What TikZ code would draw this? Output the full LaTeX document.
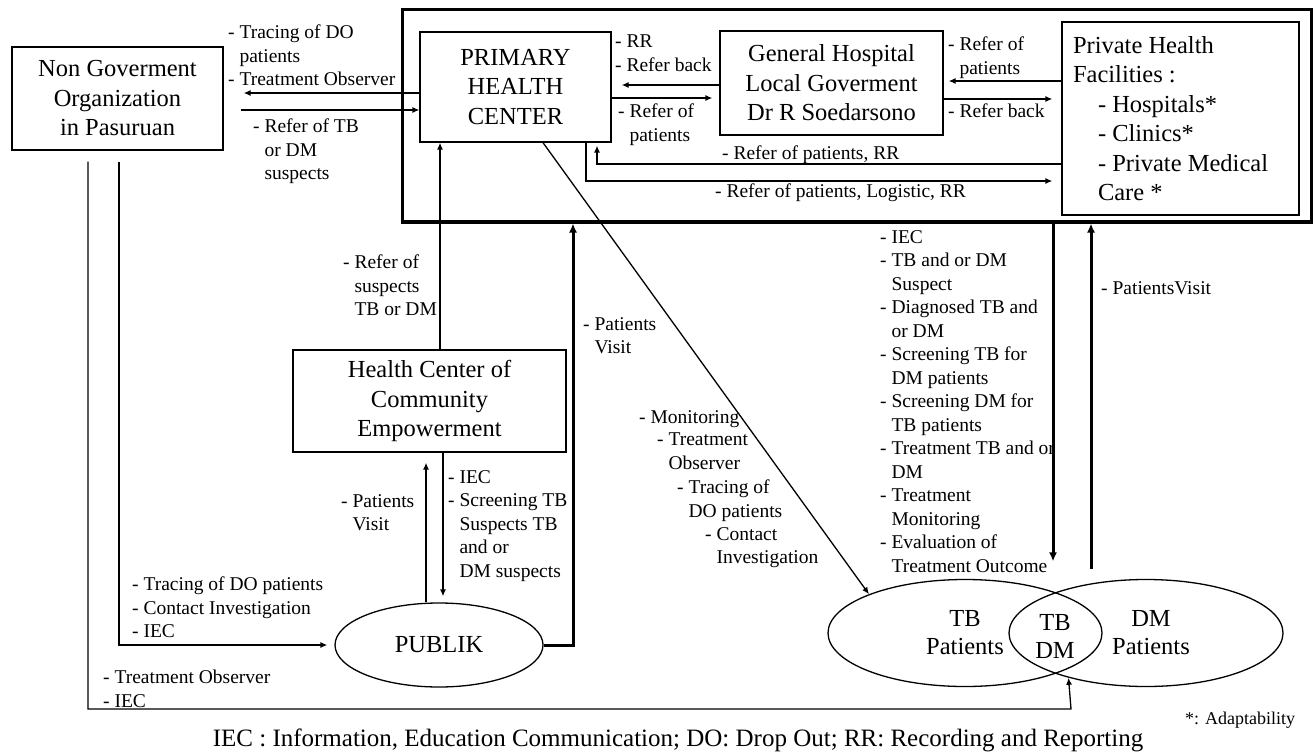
\documentclass[tikz,border=0pt]{standalone}
\usepackage{fontspec}
\setmainfont{Liberation Serif}
\usetikzlibrary{arrows.meta,shapes.geometric}
\newcommand{\myind}{\phantom{- }}
\begin{document}
\begin{tikzpicture}[x=1pt,y=-1pt,
  box/.style={draw, line width=1.3pt, align=center, inner sep=0pt, font=\fontsize{24.5}{29.5}\selectfont},
  ell/.style={draw, ellipse, line width=1.3pt, align=center, inner sep=0pt, font=\fontsize{24.5}{28}\selectfont},
  lab/.style={anchor=north west, align=left, inner sep=0pt, font=\fontsize{19.5}{23.5}\selectfont},
  arr/.style={-{Latex[length=7pt,width=6pt]}, line width=1.3pt},
  thk/.style={-{Latex[length=9pt,width=8pt]}, line width=3pt}]
\useasboundingbox (0,0) rectangle (1314,754);
\fill[white] (0,0) rectangle (1314,754);

% system frame
\node[draw, line width=3pt, minimum width=909pt, minimum height=212pt, inner sep=0pt] (sys) at (856.5,116) {};

% boxes
\node[box, minimum width=211pt, minimum height=103pt] (ngo) at (117.5,98.5) {Non Goverment\\Organization\\in Pasuruan};
\node[box, minimum width=191pt, minimum height=110pt] (phc) at (515.5,87) {PRIMARY\\HEALTH\\CENTER};
\node[box, minimum width=223pt, minimum height=104pt] (gh) at (831.5,83) {General Hospital\\Local Goverment\\Dr R Soedarsono};
\node[box, minimum width=237pt, minimum height=193pt, inner xsep=11pt, text width=215pt, align=flush left] (pvt) at (1180.5,118.5)
  {Private Health\\Facilities :\\\hspace*{25pt}- Hospitals*\\\hspace*{25pt}- Clinics*\\\hspace*{25pt}- Private Medical\\\hspace*{25pt}Care *};
\node[box, minimum width=273pt, minimum height=102pt] (hcce) at (429.5,401) {Health Center of\\Community\\Empowerment};

% ellipses
\node[ell, minimum width=208pt, minimum height=84pt] (publik) at (439,645) {PUBLIK};
\node[ell, minimum width=274pt, minimum height=107pt] (tb) at (965,633) {TB\\Patients};
\node[ell, minimum width=274pt, minimum height=107pt] (dm) at (1146,633) {\hspace*{10pt}DM\\\hspace*{10pt}Patients};
\node[align=center, inner sep=0pt, font=\fontsize{24.5}{28}\selectfont] (tbdm) at (1055,636) {TB\\DM};

% connectors
\draw[arr, shorten >=20pt] ([yshift=-6pt]phc.west) -- ([yshift=-6pt]phc.west -| ngo.east);
\draw[arr, shorten <=17pt] ([yshift=-23pt]phc.west -| ngo.east) -- ([yshift=-23pt]phc.west);
\draw[arr, shorten >=10pt] ([yshift=-2pt]gh.west) -- ([yshift=-2pt]gh.west -| phc.east);
\draw[arr, shorten >=7pt] ([yshift=-15pt]gh.west -| phc.east) -- ([yshift=-15pt]gh.west);
\draw[arr, shorten >=5pt] ([yshift=37.5pt]pvt.west) -- ([yshift=37.5pt]pvt.west -| gh.east);
\draw[arr, shorten >=9pt] ([yshift=19.5pt]pvt.west -| gh.east) -- ([yshift=19.5pt]pvt.west);
\draw[arr, shorten >=3pt] ([yshift=-45.5pt]pvt.west) -| ([xshift=81.5pt]phc.south);
\draw[arr, shorten >=9pt] ([xshift=70.5pt]phc.south) |- ([yshift=-62.5pt]pvt.west);
\draw[arr] ([xshift=27.5pt]phc.south) -- (tb.158.6);
\draw[arr] ([xshift=10.5pt]hcce.north) -- ([xshift=10.5pt]hcce.north |- phc.south);
\draw[thk] (publik.east) -| ([xshift=-283.5pt]sys.south);
\draw[arr, shorten >=10pt] ([xshift=-13pt]publik.north) -- ([xshift=-13pt]publik.north |- hcce.south);
\draw[arr, shorten >=6pt] ([xshift=13.5pt]hcce.south) -- ([xshift=13.5pt]hcce.south |- publik.north);
\draw[arr, shorten <=11pt, shorten >=7pt] ([xshift=1.5pt]ngo.south) |- (publik.west);
\coordinate (c15) at (1071,709);
\draw[arr, shorten <=11pt] ([xshift=-29.5pt]ngo.south) |- (c15) -- (dm.210.9);
\draw[thk, shorten >=17.5pt] ([xshift=196.5pt]sys.south) -- ([xshift=196.5pt]sys.south |- tb.north);
\draw[thk, shorten <=9.5pt] ([xshift=234.5pt]sys.south |- dm.north) -- ([xshift=234.5pt]sys.south);

% labels
\node[lab] (l1) at (228,25) {- Tracing of DO\\\myind patients\\- Treatment Observer};
\node[lab] (l2) at (253,119) {- Refer of TB\\\myind or DM\\\myind suspects};
\node[lab] (l3) at (615,35) {- RR\\- Refer back};
\node[lab] (l4) at (618,104) {- Refer of\\\myind patients};
\node[lab] (l5) at (948,37) {- Refer of\\\myind patients};
\node[lab] (l6) at (948,104) {- Refer back};
\node[lab] (l7) at (722,146) {- Refer of patients, RR};
\node[lab] (l8) at (715,184) {- Refer of patients, Logistic, RR};
\node[lab] (l9) at (343,255) {- Refer of\\\myind suspects\\\myind TB or DM};
\node[lab] (l10) at (583,317) {- Patients\\\myind Visit};
\node[lab] (l11) at (341,494) {- Patients\\\myind Visit};
\node[lab] (l12) at (448,470) {- IEC\\- Screening TB\\\myind Suspects TB\\\myind and or\\\myind DM suspects};
\node[lab] (l13) at (132,577) {- Tracing of DO patients\\- Contact Investigation\\- IEC};
\node[lab] (l14) at (103,670) {- Treatment Observer\\- IEC};
\node[lab] (l15a) at (639,410) {- Monitoring};
\node[lab] (l15b) at (657,433) {- Treatment\\\myind Observer};
\node[lab] (l15c) at (677,480) {- Tracing of\\\myind DO patients};
\node[lab] (l15d) at (705,527) {- Contact\\\myind Investigation};
\node[lab] (l16) at (880,230) {- IEC\\- TB and or DM\\\myind Suspect\\- Diagnosed TB and\\\myind or DM\\- Screening TB for\\\myind DM patients\\- Screening DM for\\\myind TB patients\\- Treatment TB and or\\\myind DM\\- Treatment\\\myind Monitoring\\- Evaluation of\\\myind Treatment Outcome};
\node[lab] (l17) at (1101,281) {- PatientsVisit};
\node[inner sep=0pt, font=\fontsize{25}{29}\selectfont] (foot) at (678,740) {IEC : Information, Education Communication; DO: Drop Out; RR: Recording and Reporting};
\node[lab, font=\fontsize{18}{21}\selectfont] (adapt) at (1185,712) {*: Adaptability};
\end{tikzpicture}
\end{document}
